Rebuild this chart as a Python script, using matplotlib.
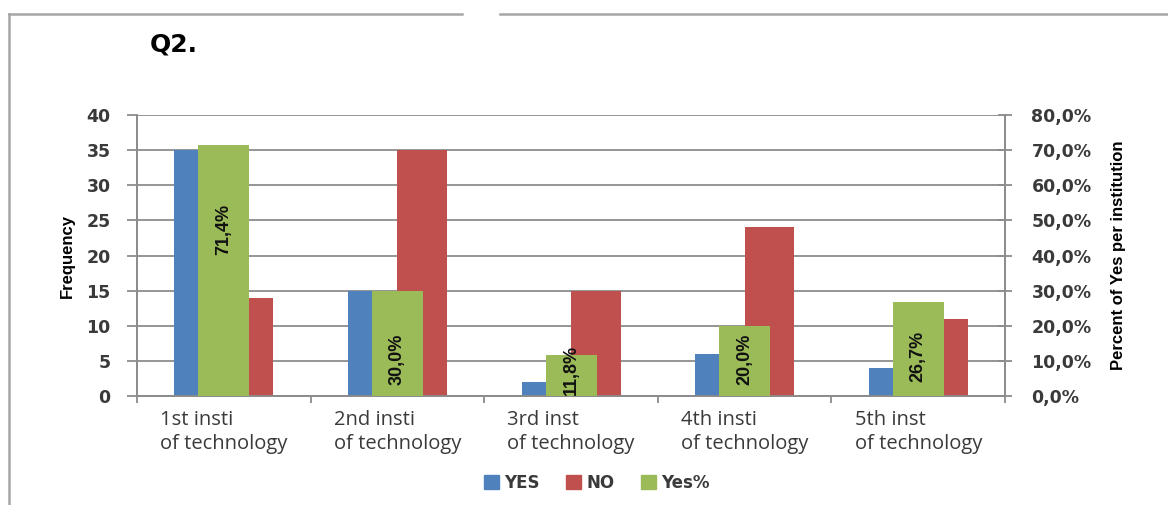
import matplotlib
matplotlib.use("Agg")
import matplotlib.pyplot as plt
from matplotlib import font_manager
from matplotlib.lines import Line2D
from matplotlib.patches import Patch
from matplotlib.ticker import FuncFormatter
import numpy as np

categories = ["1st insti\nof technology", "2nd insti\nof technology", "3rd inst\nof technology",
              "4th insti\nof technology", "5th inst\nof technology"]
yes_counts = [35, 15, 2, 6, 4]
no_counts = [14, 35, 15, 24, 11]
yes_pct = [71.4, 30.0, 11.8, 20.0, 26.7]

BLUE = "#4F81BD"
RED = "#C0504D"
GREEN = "#9BBB59"
GRID = "#8c8c8c"
TXT = "#3a3a3a"


def pick_font(name, fallback="DejaVu Sans"):
    try:
        font_manager.findfont(name, fallback_to_default=False)
        return name
    except Exception:
        return fallback


NARROW = pick_font("Liberation Sans Narrow", "Liberation Sans")
CAT_FONT = pick_font("Open Sans")

fig = plt.figure(figsize=(11.68, 5.05), dpi=100)
ax = fig.add_axes([0.1173, 0.2158, 0.7432, 0.5564])
ax2 = ax.twinx()

x = np.arange(len(categories))
w = 0.285
ax.bar(x - w / 2, yes_counts, w, color=BLUE, zorder=3)
ax.bar(x + w / 2, no_counts, w, color=RED, zorder=3)
ax2.bar(x, yes_pct, 0.294, color=GREEN, zorder=3)

# percentage labels written up the green bars
label_y = [47.4, 10.5, 7.4, 10.5, 11.3]
for xi, v, ly in zip(x, yes_pct, label_y):
    ax2.text(xi, ly, f"{v:.1f}%".replace(".", ","), rotation=90, ha="center", va="center",
             fontsize=13, family=NARROW, fontweight="bold", color="#111111", zorder=5)

ax.set_xlim(-0.5, len(categories) - 0.5)
ax.set_ylim(0, 40)
ax2.set_ylim(0, 80)
ax.set_yticks(np.arange(0, 41, 5))
ax2.set_yticks(np.arange(0, 81, 10))
ax2.yaxis.set_major_formatter(FuncFormatter(lambda v, p: f"{v:.1f}%".replace(".", ",")))

ax.yaxis.grid(True, color=GRID, linewidth=1.3, zorder=0)
ax.set_axisbelow(True)

for a in (ax, ax2):
    for s in a.spines.values():
        s.set_color(GRID)
        s.set_linewidth(1.3)
    a.spines["top"].set_visible(False)

ax.tick_params(axis="y", length=7, width=1.3, color=GRID, pad=12, labelsize=12.5,
               labelcolor=TXT)
ax2.tick_params(axis="y", direction="inout", length=10, width=1.3, color=GRID, pad=14,
                labelsize=12.5, labelcolor=TXT)
for lab in ax.get_yticklabels() + ax2.get_yticklabels():
    lab.set_fontweight("bold")

ax.set_xticks(x)
ax.set_xticklabels(categories, fontsize=14.5, family=CAT_FONT, color=TXT, linespacing=1.3,
                   multialignment="left")
ax.set_xticks(np.arange(-0.5, len(categories)), minor=True)
ax.tick_params(axis="x", which="major", length=0, pad=10)
ax.tick_params(axis="x", which="minor", length=5, width=1.3, color=GRID)

ax.set_ylabel("Frequency", family=NARROW, fontweight="bold", fontsize=12, labelpad=8)
ax2.set_ylabel("Percent of Yes per institution", family=NARROW, fontweight="bold",
               fontsize=12, labelpad=14)

fig.text(0.128, 0.911, "Q2.", fontsize=18, fontweight="bold", family="DejaVu Sans",
         ha="left", va="center")

handles = [Patch(color=BLUE, label="YES"), Patch(color=RED, label="NO"),
           Patch(color=GREEN, label="Yes%")]
leg = fig.legend(handles=handles, loc="center", bbox_to_anchor=(0.511, 0.044), ncol=3,
                 frameon=False, handlelength=0.9, handleheight=0.9, handletextpad=0.3,
                 columnspacing=1.6, prop={"weight": "bold", "size": 12})
for t in leg.get_texts():
    t.set_color(TXT)

# chart border, open at the top middle
fig.add_artist(Line2D([9 / 1168, 9 / 1168], [0, 1 - 14 / 505], transform=fig.transFigure,
                      color="#a6a6a6", linewidth=1.8))
fig.add_artist(Line2D([9 / 1168, 462 / 1168], [1 - 14 / 505, 1 - 14 / 505],
                      transform=fig.transFigure, color="#a6a6a6", linewidth=1.8))
fig.add_artist(Line2D([500 / 1168, 1], [1 - 14 / 505, 1 - 14 / 505],
                      transform=fig.transFigure, color="#a6a6a6", linewidth=1.8))

fig.savefig("out.png", dpi=100)
